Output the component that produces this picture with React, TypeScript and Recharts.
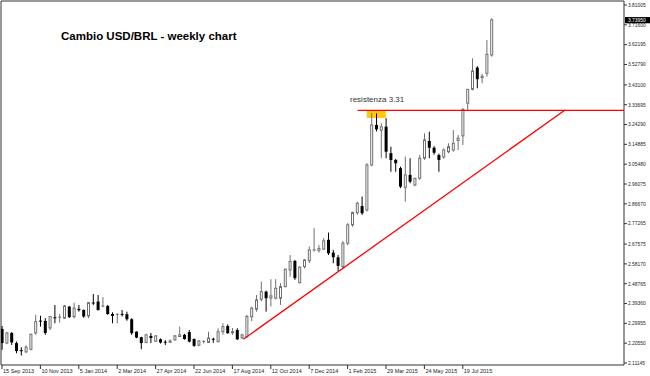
import { ComposedChart, Bar, XAxis, YAxis, ReferenceLine, ReferenceArea } from 'recharts';

// weekly OHLC, 15 Sep 2013 .. 30 Aug 2015
const opens = [
  2.273, 2.206, 2.254, 2.206, 2.17, 2.164, 2.176, 2.254, 2.31, 2.311,
  2.278, 2.326, 2.325, 2.324, 2.379, 2.332, 2.368, 2.363, 2.335, 2.396,
  2.403, 2.378, 2.382, 2.344, 2.34, 2.342, 2.343, 2.319, 2.26, 2.234,
  2.209, 2.24, 2.215, 2.224, 2.21, 2.21, 2.221, 2.237, 2.245, 2.258,
  2.225, 2.196, 2.211, 2.209, 2.224, 2.213, 2.26, 2.287, 2.255, 2.268,
  2.231, 2.237, 2.331, 2.367, 2.414, 2.45, 2.42, 2.419, 2.419, 2.474,
  2.553, 2.596, 2.493, 2.569, 2.597, 2.645, 2.646, 2.652, 2.696, 2.635,
  2.613, 2.569, 2.68, 2.767, 2.825, 2.856, 2.838, 3.051, 3.241, 3.216,
  3.233, 3.107, 3.075, 3.036, 2.945, 3.004, 2.956, 2.988, 3.083, 3.165,
  3.133, 3.098, 3.089, 3.114, 3.122, 3.167, 3.189, 3.344, 3.41, 3.513,
  3.465, 3.486, 3.573,
];
const highs = [
  2.287, 2.259, 2.258, 2.213, 2.186, 2.196, 2.25, 2.34, 2.336, 2.324,
  2.335, 2.387, 2.344, 2.387, 2.382, 2.397, 2.387, 2.366, 2.398, 2.439,
  2.434, 2.424, 2.387, 2.352, 2.347, 2.363, 2.355, 2.324, 2.262, 2.236,
  2.25, 2.254, 2.244, 2.228, 2.22, 2.224, 2.245, 2.284, 2.25, 2.268,
  2.228, 2.22, 2.22, 2.26, 2.232, 2.276, 2.3, 2.295, 2.278, 2.276,
  2.25, 2.34, 2.379, 2.434, 2.498, 2.455, 2.509, 2.509, 2.49, 2.56,
  2.624, 2.6, 2.57, 2.605, 2.664, 2.751, 2.671, 2.704, 2.73, 2.648,
  2.624, 2.69, 2.775, 2.83, 2.877, 2.901, 3.06, 3.298, 3.296, 3.249,
  3.273, 3.138, 3.08, 3.043, 3.091, 3.083, 2.99, 3.098, 3.201, 3.209,
  3.14, 3.105, 3.13, 3.154, 3.217, 3.193, 3.32, 3.41, 3.557, 3.52,
  3.483, 3.644, 3.747,
];
const lows = [
  2.174, 2.201, 2.197, 2.158, 2.147, 2.16, 2.172, 2.245, 2.284, 2.245,
  2.268, 2.3, 2.303, 2.32, 2.325, 2.322, 2.355, 2.326, 2.324, 2.387,
  2.36, 2.376, 2.34, 2.3, 2.3, 2.332, 2.312, 2.245, 2.229, 2.177,
  2.205, 2.206, 2.212, 2.204, 2.197, 2.206, 2.218, 2.235, 2.222, 2.209,
  2.188, 2.192, 2.204, 2.206, 2.207, 2.209, 2.245, 2.25, 2.245, 2.22,
  2.224, 2.23, 2.31, 2.355, 2.405, 2.355, 2.379, 2.413, 2.387, 2.47,
  2.521, 2.506, 2.488, 2.56, 2.585, 2.64, 2.635, 2.648, 2.624, 2.585,
  2.548, 2.56, 2.67, 2.758, 2.814, 2.814, 2.83, 3.045, 3.21, 3.083,
  3.083, 3.019, 3.019, 2.941, 2.877, 2.964, 2.95, 2.98, 3.075, 3.083,
  3.1, 3.019, 3.08, 3.107, 3.114, 3.122, 3.146, 3.31, 3.405, 3.415,
  3.439, 3.47, 3.565,
];
const closes = [
  2.206, 2.254, 2.209, 2.168, 2.166, 2.186, 2.248, 2.308, 2.306, 2.254,
  2.332, 2.322, 2.329, 2.382, 2.329, 2.372, 2.362, 2.332, 2.398, 2.394,
  2.363, 2.382, 2.344, 2.335, 2.342, 2.34, 2.319, 2.253, 2.232, 2.206,
  2.245, 2.23, 2.24, 2.209, 2.208, 2.216, 2.24, 2.245, 2.225, 2.213,
  2.193, 2.216, 2.213, 2.23, 2.221, 2.26, 2.284, 2.253, 2.26, 2.224,
  2.245, 2.332, 2.371, 2.411, 2.45, 2.419, 2.43, 2.466, 2.474, 2.556,
  2.593, 2.514, 2.566, 2.6, 2.648, 2.648, 2.655, 2.691, 2.632, 2.613,
  2.572, 2.68, 2.767, 2.825, 2.869, 2.822, 3.051, 3.241, 3.22, 3.232,
  3.114, 3.075, 3.059, 2.948, 3.004, 2.972, 2.988, 3.083, 3.17, 3.133,
  3.109, 3.075, 3.122, 3.138, 3.154, 3.178, 3.315, 3.41, 3.497, 3.458,
  3.472, 3.576, 3.7395,
];

// one date label every 8 weeks
const dateLabels = [
  '15 Sep 2013', '10 Nov 2013', '5 Jan 2014', '2 Mar 2014', '27 Apr 2014',
  '22 Jun 2014', '17 Aug 2014', '12 Oct 2014', '7 Dec 2014', '1 Feb 2015',
  '29 Mar 2015', '24 May 2015', '19 Jul 2015',
];
const dateTicks = dateLabels.map((_, k) => k * 8);

const priceTicks = [
  3.81005, 3.716, 3.62195, 3.5279, 3.431, 3.33695, 3.2429, 3.14885, 3.0548,
  2.96075, 2.8667, 2.77265, 2.67575, 2.5817, 2.48765, 2.3936, 2.29955,
  2.2055, 2.11145,
];

const resistance = 3.31;
const trendStart = { x: 50.27, y: 2.224 };
const trendEnd = { x: 117.3, y: 3.312 };
const touchZone = { x1: 75.98, x2: 79.94, y1: 3.274, y2: 3.307 };

const data = opens.map((o, i) => ({
  i,
  open: o,
  high: highs[i],
  low: lows[i],
  close: closes[i],
}));
const lastClose = closes[closes.length - 1];

const X_MIN = -0.2083;
const X_MAX = 129.583;
const Y_MIN = 2.10196;
const Y_MAX = 3.82903;
const PLOT_BOTTOM = 365;
const FONT = '"Liberation Sans", Arial, sans-serif';

const Candle = (props: any) => {
  const { x, width, y, height, payload } = props;
  if (!payload) return null;
  const { open, close, high, low } = payload;
  const cx = x + width / 2;
  const top = Math.min(y, y + height);
  const h = Math.abs(height);
  const span = high - low || 1;
  const py = (v: number) => top + ((high - v) / span) * h;
  const bTop = py(Math.max(open, close));
  const bBot = py(Math.min(open, close));
  const up = close >= open;
  const col = up ? '#707070' : '#000';
  return (
    <g>
      <line x1={cx} x2={cx} y1={top} y2={top + h} stroke={col} strokeWidth={1} />
      {bBot - bTop < 1 ? (
        <line x1={cx - 1.5} x2={cx + 1.5} y1={bTop} y2={bTop} stroke={col} strokeWidth={1} />
      ) : up ? (
        <rect x={cx - 1} y={bTop} width={2} height={bBot - bTop} fill="#fff" stroke={col} strokeWidth={1} />
      ) : (
        <rect x={cx - 1.5} y={bTop} width={3} height={bBot - bTop} fill="#000" />
      )}
    </g>
  );
};

const DateTick = (props: any) => {
  const { x, payload } = props;
  return (
    <g>
      <line x1={x} x2={x} y1={PLOT_BOTTOM} y2={PLOT_BOTTOM + 4} stroke="#333" />
      <text x={x + 1} y={373} fontSize={5.5} fontFamily={FONT} fill="#222">
        {dateLabels[Math.round(payload.value / 8)]}
      </text>
    </g>
  );
};

const PriceTick = (props: any) => {
  const { x, y, payload } = props;
  return (
    <g>
      <line x1={624} x2={627} y1={y} y2={y} stroke="#333" />
      <text x={628} y={y + 1.8} fontSize={4.9} fontFamily={FONT} fill="#222">
        {Number(payload.value).toFixed(5)}
      </text>
    </g>
  );
};

const PriceBox = (props: any) => {
  const { viewBox } = props;
  if (!viewBox) return null;
  const yy = viewBox.y;
  return (
    <g>
      <rect x={625} y={yy - 2.8} width={25} height={6.2} fill="#000" />
      <text x={628} y={yy + 2.1} fontSize={4.9} fontFamily={FONT} fill="#fff">
        {lastClose.toFixed(5)}
      </text>
    </g>
  );
};

export default function App() {
  return (
    <div style={{ position: 'absolute', left: 0, top: 0, width: 650, height: 376, background: '#fff' }}>
      <ComposedChart width={650} height={376} data={data} margin={{ top: 1, right: 0, bottom: 0, left: 1 }}>
        <XAxis
          dataKey="i"
          type="number"
          domain={[X_MIN, X_MAX]}
          allowDataOverflow
          ticks={dateTicks}
          interval={0}
          height={11}
          axisLine={false}
          tickLine={false}
          tick={<DateTick />}
        />
        <YAxis
          orientation="right"
          type="number"
          domain={[Y_MIN, Y_MAX]}
          allowDataOverflow
          ticks={priceTicks}
          interval={0}
          width={26}
          axisLine={false}
          tickLine={false}
          tick={<PriceTick />}
        />
        <ReferenceArea
          x1={touchZone.x1}
          x2={touchZone.x2}
          y1={touchZone.y1}
          y2={touchZone.y2}
          fill="#FFC90E"
          fillOpacity={1}
          stroke="none"
        />
        <Bar dataKey={(d: any) => [d.low, d.high]} shape={Candle} barSize={3} isAnimationActive={false} />
        <ReferenceLine
          segment={[{ x: 74.1, y: resistance }, { x: X_MAX, y: resistance }]}
          stroke="#ff0000"
          strokeWidth={1.3}
        />
        <ReferenceLine segment={[trendStart, trendEnd]} stroke="#ff0000" strokeWidth={1.3} />
        <ReferenceLine y={lastClose} stroke="none" ifOverflow="visible" label={<PriceBox />} />
        <ReferenceArea
          x1={X_MIN}
          x2={X_MAX}
          y1={Y_MIN}
          y2={Y_MAX}
          fill="none"
          stroke="#333"
          strokeWidth={1}
        />
      </ComposedChart>
      <div
        style={{
          position: 'absolute',
          left: 61,
          top: 31,
          fontFamily: FONT,
          fontWeight: 'bold',
          fontSize: 11.5,
          lineHeight: '11.5px',
          color: '#000',
          whiteSpace: 'nowrap',
        }}
      >
        Cambio USD/BRL - weekly chart
      </div>
      <div
        style={{
          position: 'absolute',
          left: 350,
          top: 96.2,
          fontFamily: FONT,
          fontSize: 8,
          lineHeight: '8px',
          color: '#333',
          whiteSpace: 'nowrap',
        }}
      >
        resistenza 3.31
      </div>
    </div>
  );
}
